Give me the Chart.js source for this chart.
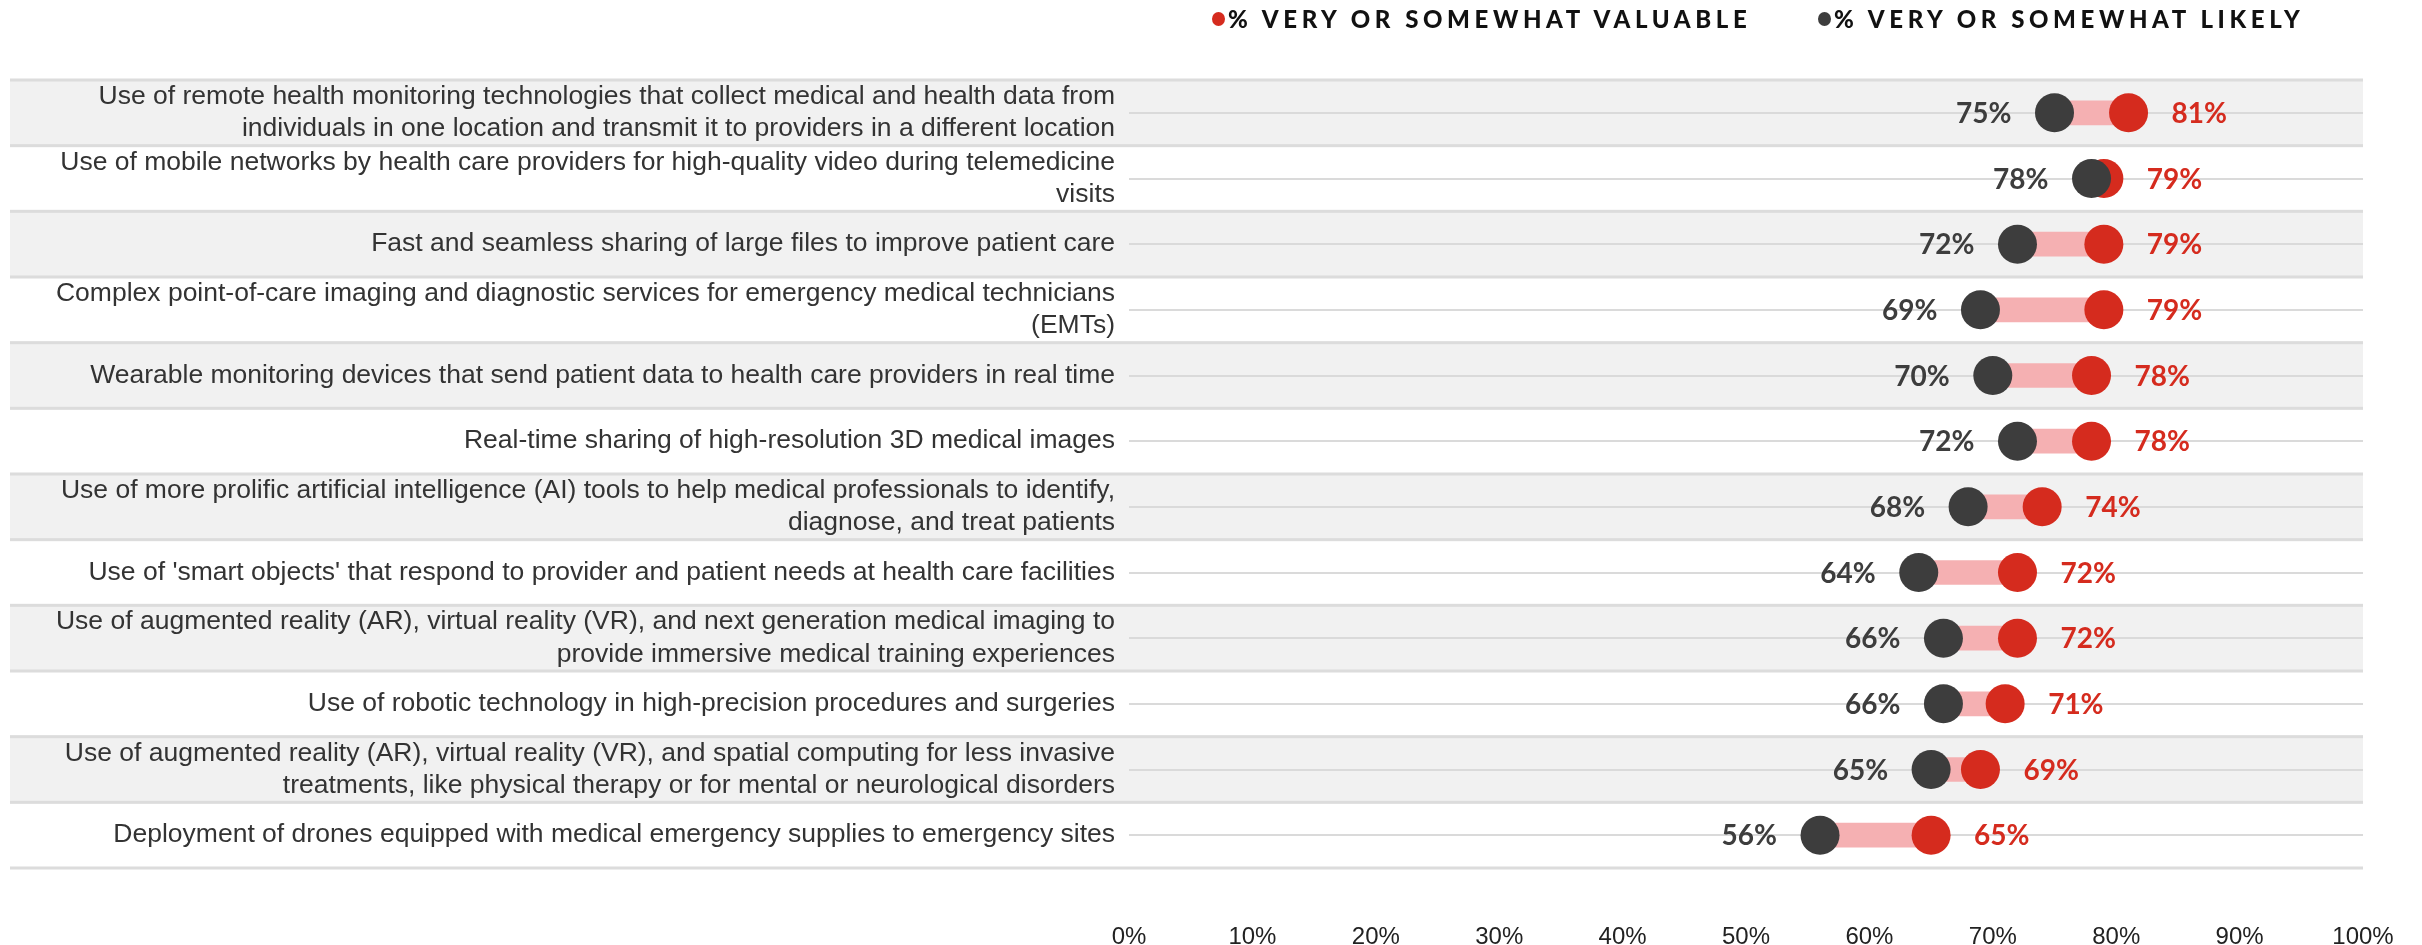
<!DOCTYPE html>
<html>
<head>
<meta charset="utf-8">
<script src="https://cdn.jsdelivr.net/npm/chart.js@4"></script>
<style>
  body { margin: 0; background: #fff; }
  #wrap { position: relative; width: 2422px; height: 945px; }
  .leg { position: absolute; top: 4px; display: flex; align-items: center; white-space: nowrap;
         font-family: Lato, sans-serif; font-weight: 900; font-size: 24px;
         letter-spacing: 4.6px; color: #111; }
  .leg .dot { width: 13px; height: 14px; border-radius: 50%; margin-right: 3px; }
</style>
</head>
<body>
<div id="wrap">
  <canvas id="dumbbellChart" width="2422" height="945"></canvas>
  <div class="leg" style="left:1212px"><span class="dot" style="background:#d52b1e"></span>% VERY OR SOMEWHAT VALUABLE</div>
  <div class="leg" style="left:1818px"><span class="dot" style="background:#3d3d3d"></span>% VERY OR SOMEWHAT LIKELY</div>
</div>
<script>
const categories = [
  ['Use of remote health monitoring technologies that collect medical and health data from', 'individuals in one location and transmit it to providers in a different location'],
  ['Use of mobile networks by health care providers for high-quality video during telemedicine', 'visits'],
  'Fast and seamless sharing of large files to improve patient care',
  ['Complex point-of-care imaging and diagnostic services for emergency medical technicians', '(EMTs)'],
  'Wearable monitoring devices that send patient data to health care providers in real time',
  'Real-time sharing of high-resolution 3D medical images',
  ['Use of more prolific artificial intelligence (AI) tools to help medical professionals to identify,', 'diagnose, and treat patients'],
  "Use of 'smart objects' that respond to provider and patient needs at health care facilities",
  ['Use of augmented reality (AR), virtual reality (VR), and next generation medical imaging to', 'provide immersive medical training experiences'],
  'Use of robotic technology in high-precision procedures and surgeries',
  ['Use of augmented reality (AR), virtual reality (VR), and spatial computing for less invasive', 'treatments, like physical therapy or for mental or neurological disorders'],
  'Deployment of drones equipped with medical emergency supplies to emergency sites'
];
const valuable = [81, 79, 79, 79, 78, 78, 74, 72, 72, 71, 69, 65];
const likely = [75, 78, 72, 69, 70, 72, 68, 64, 66, 66, 65, 56];
const xTicks = [0, 10, 20, 30, 40, 50, 60, 70, 80, 90, 100];

const RED = '#d52b1e';
const DARK = '#3d3d3d';

// row shading + separator lines behind everything
const rowBands = {
  id: 'rowBands',
  beforeDraw(chart) {
    const ctx = chart.ctx;
    const y = chart.scales.y;
    const step = y.getPixelForValue(1) - y.getPixelForValue(0);
    const left = 10, right = chart.chartArea.right;
    ctx.save();
    categories.forEach((c, i) => {
      const top = y.getPixelForValue(i) - step / 2;
      if (i % 2 === 0) {
        ctx.fillStyle = '#f1f1f1';
        ctx.fillRect(left, top, right - left, step);
      }
    });
    ctx.fillStyle = '#dcdcdc';
    for (let i = 0; i <= categories.length; i++) {
      const top = y.getPixelForValue(i) - step / 2;
      ctx.fillRect(left, top - 1.5, right - left, 3);
    }
    ctx.restore();
  }
};

// value labels beside the dots
const valueLabels = {
  id: 'valueLabels',
  afterDatasetsDraw(chart) {
    const ctx = chart.ctx;
    ctx.save();
    ctx.font = 'bold 28px Lato, sans-serif';
    ctx.textBaseline = 'middle';
    chart.data.datasets.forEach((ds, di) => {
      if (ds.type !== 'line') return;
      const meta = chart.getDatasetMeta(di);
      meta.data.forEach((pt, i) => {
        const txt = ds.data[i] + '%';
        if (ds.side === 'right') {
          ctx.textAlign = 'left';
          ctx.fillStyle = RED;
          ctx.fillText(txt, pt.x + 43, pt.y + 1);
        } else {
          ctx.textAlign = 'right';
          ctx.fillStyle = DARK;
          ctx.fillText(txt, pt.x - 43, pt.y + 1);
        }
      });
    });
    ctx.restore();
  }
};

const ctx = document.getElementById('dumbbellChart').getContext('2d');
new Chart(ctx, {
  type: 'bar',
  data: {
    labels: categories,
    datasets: [
      {
        type: 'bar',
        data: likely.map((l, i) => [l, valuable[i]]),
        backgroundColor: '#f5b0b2',
        barThickness: 24,
        order: 3
      },
      {
        type: 'line',
        indexAxis: 'y',
        side: 'right',
        data: valuable,
        showLine: false,
        pointRadius: 19.5,
        pointHoverRadius: 19.5,
        pointBorderWidth: 0,
        pointBackgroundColor: RED,
        order: 2
      },
      {
        type: 'line',
        indexAxis: 'y',
        side: 'left',
        data: likely,
        showLine: false,
        pointRadius: 19.5,
        pointHoverRadius: 19.5,
        pointBorderWidth: 0,
        pointBackgroundColor: DARK,
        order: 1
      }
    ]
  },
  options: {
    indexAxis: 'y',
    responsive: false,
    animation: false,
    events: [],
    layout: { padding: { top: 80, right: 59, left: 10, bottom: 0 } },
    plugins: {
      legend: { display: false },
      tooltip: { enabled: false }
    },
    scales: {
      x: {
        min: 0,
        max: 100,
        afterBuildTicks: (s) => { s.ticks = xTicks.map(v => ({ value: v })); },
        afterFit: (s) => { s.height = 77; s.paddingLeft = 0; s.paddingRight = 0; },
        grid: { display: false },
        border: { display: false },
        ticks: {
          padding: 47,
          color: '#222',
          font: { family: 'Liberation Sans', size: 24 },
          callback: v => v + '%'
        }
      },
      y: {
        afterFit: (s) => { s.width = 1119; s.paddingTop = 0; s.paddingBottom = 0; },
        grid: { offset: false, drawTicks: false, color: '#dadada', lineWidth: 2 },
        border: { display: false },
        ticks: {
          autoSkip: false,
          padding: 14,
          color: '#333',
          font: { family: 'Liberation Sans', size: 26.5, lineHeight: 1.21 }
        }
      }
    }
  },
  plugins: [rowBands, valueLabels]
});
</script>
</body>
</html>
